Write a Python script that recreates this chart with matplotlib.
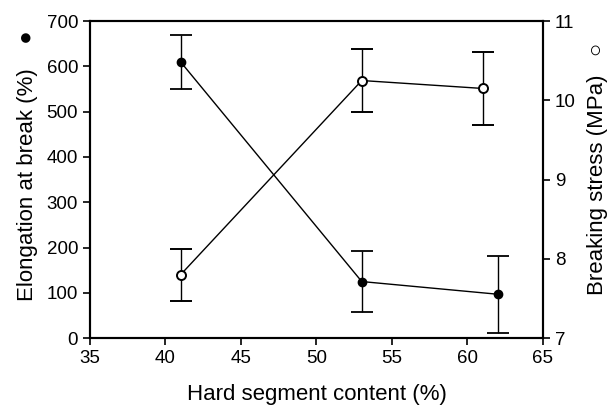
import matplotlib
matplotlib.use("Agg")
import matplotlib.pyplot as plt

plt.rcParams["font.family"] = ["Liberation Sans", "DejaVu Sans"]

hard_elong = [41, 53, 62]
elongation = [610, 125, 97]
elongation_err = [60, 67, 85]

hard_stress = [41, 53, 61]
stress = [7.8, 10.25, 10.15]
stress_err = [0.33, 0.4, 0.46]

fig = plt.figure(figsize=(6.08, 4.05), dpi=100)
ax = fig.add_axes([0.148, 0.165, 0.745, 0.783])
ax2 = ax.twinx()

ax.errorbar(hard_elong, elongation, yerr=elongation_err, color="black", lw=1.0,
            marker="o", ms=6, mfc="black", mec="black", capsize=8, elinewidth=1.0,
            capthick=1.3)
ax2.errorbar(hard_stress, stress, yerr=stress_err, color="black", lw=1.0,
             marker="o", ms=6.5, mfc="white", mec="black", mew=1.4, capsize=8,
             elinewidth=1.0, capthick=1.3)

ax.set_xlim(35, 65)
ax.set_ylim(0, 700)
ax2.set_ylim(7, 11)
ax.set_xticks(range(35, 66, 5))
ax.set_yticks(range(0, 701, 100))
ax2.set_yticks(range(7, 12))

ax.set_xlabel("Hard segment content (%)", fontsize=16, labelpad=12)
ax.set_ylabel("Elongation at break (%)    \u25cf", fontsize=16)
ax2.set_ylabel("Breaking stress (MPa)   \u25cb", fontsize=16)
ax.yaxis.set_label_coords(-0.115, 0.545)
ax2.yaxis.set_label_coords(1.097, 0.535)

for a in (ax, ax2):
    a.tick_params(direction="out", length=5, width=1.2, labelsize=13.5)
    for s in a.spines.values():
        s.set_linewidth(1.5)

fig.savefig("out.png", dpi=100)
